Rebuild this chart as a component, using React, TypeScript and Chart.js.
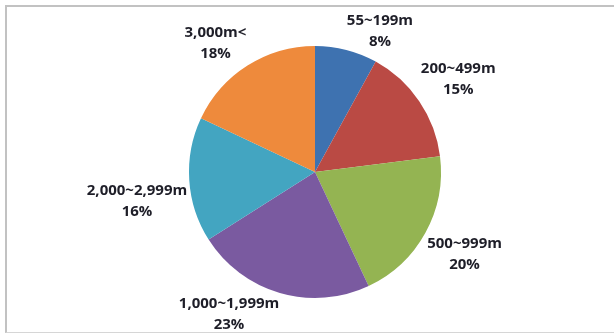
import React, { useEffect, useRef } from "react";
import { Chart, registerables } from "chart.js";

Chart.register(...registerables);

const categories = ["55~199m", "200~499m", "500~999m", "1,000~1,999m", "2,000~2,999m", "3,000m<"];
const shares = [8, 15, 20, 23, 16, 18];
const colors = ["#3E72B0", "#BA4A44", "#94B452", "#7A5AA0", "#43A5C1", "#EE8A3C"];

const outsideLabels = {
  id: "outsideLabels",
  afterDatasetsDraw(chart: any) {
    const ctx = chart.ctx;
    const meta = chart.getDatasetMeta(0);
    const lh = 21;
    const gap = 2;
    ctx.save();
    ctx.font = "bold 15px 'Open Sans'";
    ctx.fillStyle = "#1e1e28";
    ctx.textAlign = "center";
    ctx.textBaseline = "middle";
    meta.data.forEach((arc: any, i: number) => {
      const { x, y, startAngle, endAngle, outerRadius } = arc.getProps(
        ["x", "y", "startAngle", "endAngle", "outerRadius"],
        true
      );
      const mid = (startAngle + endAngle) / 2;
      const ux = Math.cos(mid);
      const uy = Math.sin(mid);
      const lines = [categories[i], shares[i] + "%"];
      const w = Math.max(...lines.map((t) => ctx.measureText(t).width));
      const h = lh * lines.length;
      const px = x + ux * (outerRadius + gap);
      const py = y + uy * (outerRadius + gap);
      let cx = px + Math.sign(ux) * (w / 2);
      let cy = py + Math.sign(uy) * (h / 2);
      cy = Math.min(cy, chart.height - h / 2 + 2);
      cy = Math.max(cy, h / 2 + 10);
      lines.forEach((t, k) => {
        ctx.fillText(t, cx, cy - h / 2 + lh / 2 + k * lh);
      });
    });
    ctx.restore();
  },
};

export default function App() {
  const ref = useRef<HTMLCanvasElement | null>(null);
  useEffect(() => {
    if (!ref.current) return;
    const chart = new Chart(ref.current, {
      type: "pie",
      data: {
        labels: categories,
        datasets: [
          {
            data: shares,
            backgroundColor: colors,
            borderWidth: 0,
          },
        ],
      },
      options: {
        responsive: false,
        animation: false,
        layout: { padding: { top: 46, bottom: 35, left: 189, right: 173 } },
        plugins: {
          legend: { display: false },
          tooltip: { enabled: false },
        },
      },
      plugins: [outsideLabels],
    });
    return () => chart.destroy();
  }, []);
  return (
    <div
      style={{
        position: "fixed",
        left: 0,
        top: 0,
        width: 614,
        height: 333,
        background: "#fff",
        overflow: "hidden",
      }}
    >
      <div
        style={{
          position: "absolute",
          left: 5,
          top: 5,
          width: 640,
          height: 325,
          borderTop: "2px solid #c2c2c2",
          borderLeft: "2px solid #c2c2c2",
          borderBottom: "1px solid #d6d6d6",
        }}
      />
      <canvas
        ref={ref}
        width={614}
        height={333}
        style={{ position: "absolute", left: 0, top: 0, width: 614, height: 333 }}
      />
    </div>
  );
}
